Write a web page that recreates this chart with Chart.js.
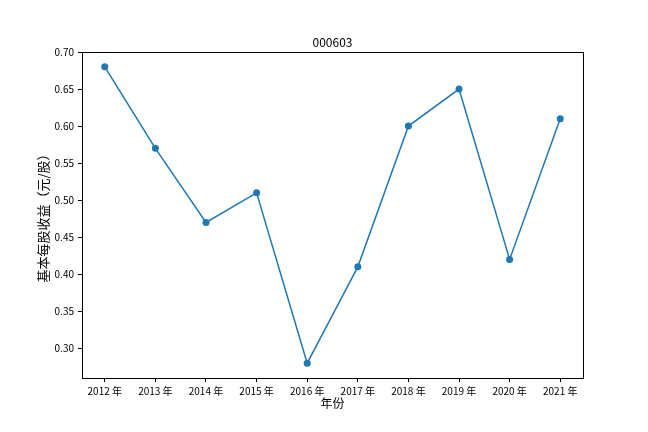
<!DOCTYPE html>
<html>
<head>
<meta charset="utf-8">
<script src="https://cdn.jsdelivr.net/npm/chart.js@4"></script>
<style>
html,body{margin:0;padding:0;background:#fff;}
#wrap{width:648px;height:432px;}
</style>
</head>
<body>
<div id="wrap"><canvas id="c" width="648" height="432"></canvas></div>
<script>
const years = [2012, 2013, 2014, 2015, 2016, 2017, 2018, 2019, 2020, 2021];
const eps = [0.68, 0.57, 0.47, 0.51, 0.28, 0.41, 0.60, 0.65, 0.42, 0.61];
const yTicks = [0.30, 0.35, 0.40, 0.45, 0.50, 0.55, 0.60, 0.65, 0.70];
const titleText = '000603';
const xLabel = '年份';
const yLabel = '基本每股收益（元/股）';

const FONT = '"Noto Sans CJK SC", "DejaVu Sans", sans-serif';

const framePlugin = {
  id: 'frame',
  afterDraw(chart) {
    const {ctx, chartArea: a} = chart;
    ctx.save();
    ctx.strokeStyle = '#000';
    ctx.lineWidth = 1;
    ctx.strokeRect(Math.round(a.left) + 0.5, Math.round(a.top) + 0.5, Math.round(a.right - a.left), Math.round(a.bottom - a.top));
    ctx.fillStyle = '#000';
    ctx.font = '12px ' + FONT;
    ctx.textAlign = 'center';
    ctx.textBaseline = 'middle';
    ctx.fillText(titleText, (a.left + a.right) / 2, 42);
    ctx.restore();
  }
};

new Chart(document.getElementById('c'), {
  type: 'line',
  data: {
    datasets: [{
      data: years.map((y, i) => ({x: y, y: eps[i]})),
      borderColor: '#1f77b4',
      backgroundColor: '#1f77b4',
      borderWidth: 1.5,
      pointRadius: 3.5,
      pointHoverRadius: 3.5,
      pointBorderWidth: 0,
      tension: 0,
      fill: false
    }]
  },
  options: {
    responsive: false,
    animation: false,
    events: [],
    layout: {padding: {left: 0, right: 65, top: 52, bottom: 0}},
    plugins: {legend: {display: false}, title: {display: false}, tooltip: {enabled: false}},
    scales: {
      x: {
        type: 'linear',
        min: 2011.55,
        max: 2021.45,
        afterBuildTicks: s => { s.ticks = years.map(v => ({value: v})); },
        afterFit: s => { s.height = 54; },
        ticks: {
          color: '#000',
          font: {family: FONT, size: 10},
          padding: 3,
          maxRotation: 0,
          autoSkip: false,
          callback: v => v + ' 年'
        },
        grid: {drawOnChartArea: false, drawTicks: true, tickLength: 4, tickColor: '#000'},
        border: {display: true, color: '#000'},
        title: {display: true, text: xLabel, color: '#000', font: {family: FONT, size: 12}, padding: {top: 0, bottom: 21}}
      },
      y: {
        type: 'linear',
        min: 0.26,
        max: 0.70,
        afterBuildTicks: s => { s.ticks = yTicks.map(v => ({value: v})); },
        afterFit: s => { s.width = 82; },
        ticks: {
          color: '#000',
          font: {family: FONT, size: 10},
          padding: 4,
          callback: v => Number(v).toFixed(2)
        },
        grid: {drawOnChartArea: false, drawTicks: true, tickLength: 4, tickColor: '#000'},
        border: {display: true, color: '#000'},
        title: {display: true, text: yLabel, color: '#000', font: {family: FONT, size: 13}, padding: {top: 35, bottom: 0}}
      }
    }
  },
  plugins: [framePlugin]
});
</script>
</body>
</html>
